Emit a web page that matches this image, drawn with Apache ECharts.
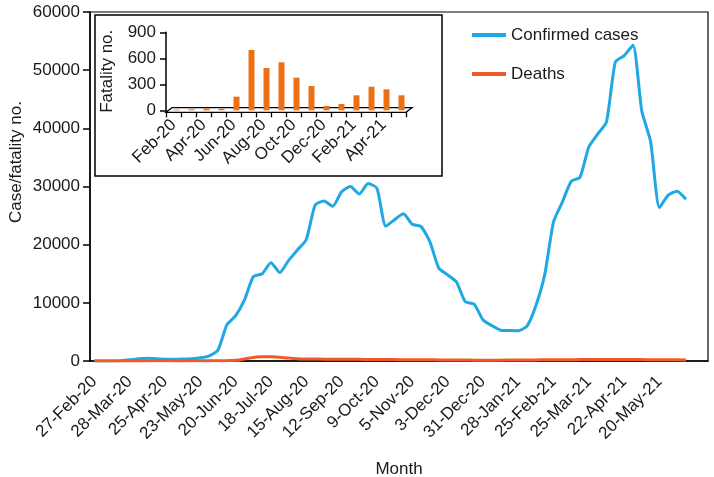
<!DOCTYPE html>
<html>
<head>
<meta charset="utf-8">
<script src="https://cdn.jsdelivr.net/npm/echarts@6/dist/echarts.min.js"></script>
<style>html,body{margin:0;padding:0;background:#fff}#c{width:714px;height:477px}</style>
</head>
<body>
<div id="c"></div>
<script>
// Weekly x-axis tick labels (every 4th week shown)
const tickLabels = ['27-Feb-20','28-Mar-20','25-Apr-20','23-May-20','20-Jun-20','18-Jul-20','15-Aug-20','12-Sep-20','9-Oct-20','5-Nov-20','3-Dec-20','31-Dec-20','28-Jan-21','25-Feb-21','25-Mar-21','22-Apr-21','20-May-21'];
const weekCount = 70;
// Weekly confirmed cases
const confirmedCases = [0,0,10,60,200,380,460,400,310,280,330,400,550,900,1900,6200,7800,10500,14500,15000,16900,15200,17300,19100,20900,26800,27500,26600,29100,30000,28700,30500,29700,23200,24300,25300,23500,23100,20500,16000,14800,13600,10200,9800,7100,6100,5300,5250,5200,6000,9500,14800,23900,27300,30900,31600,36800,39000,41100,51400,52500,54300,43000,37700,26400,28500,29200,27800];
// Weekly deaths
const deaths = [0,0,0,5,10,15,20,25,25,20,20,25,30,35,40,60,120,350,600,720,720,640,500,400,350,330,320,310,300,290,280,270,260,250,240,230,220,210,200,190,180,170,160,150,150,150,150,160,170,180,190,200,210,220,230,240,250,250,250,250,250,250,240,230,220,210,200,190];
// Inset: monthly fatalities
const months = ['Feb-20','Mar-20','Apr-20','May-20','Jun-20','Jul-20','Aug-20','Sep-20','Oct-20','Nov-20','Dec-20','Jan-21','Feb-21','Mar-21','Apr-21','May-21'];
const monthlyFatalities = [8,12,20,18,157,696,488,554,376,280,50,73,173,272,242,173];

const weeks = [];
for (let i = 0; i < weekCount; i++) weeks.push('W' + i);

const FONT = 'Liberation Sans, Arial, sans-serif';
const TXT = '#1a1a1a';
const BLUE = '#1FA8E4';
const RED = '#F05A28';
const BAR = '#EC7014';

const chart = echarts.init(document.getElementById('c'), null, {renderer: 'canvas'});
chart.setOption({
  animation: false,
  backgroundColor: '#fff',
  textStyle: {fontFamily: FONT, color: TXT},
  grid: [
    {left: 90, right: 6, top: 12, bottom: 116, containLabel: false, outerBoundsMode: 'none', show: true, borderColor: '#000', borderWidth: 1.2, backgroundColor: 'transparent'},
    {left: 166, top: 32.3, width: 240, height: 78, containLabel: false, outerBoundsMode: 'none'},
    {left: 169, top: 32.3, width: 240, height: 78, containLabel: false, outerBoundsMode: 'none'}
  ],
  legend: {
    orient: 'vertical', left: 467, top: 20, itemWidth: 34, itemHeight: 4, itemGap: 19, icon: 'rect',
    textStyle: {fontSize: 17, color: TXT, fontFamily: FONT, lineHeight: 20},
    data: ['Confirmed cases', 'Deaths']
  },
  xAxis: [
    {
      type: 'category', gridIndex: 0, data: weeks, boundaryGap: true,
      name: 'Month', nameLocation: 'middle', nameGap: 100,
      nameTextStyle: {fontSize: 17, color: TXT, fontFamily: FONT},
      axisLine: {lineStyle: {color: '#000', width: 1.5}},
      axisTick: {interval: 2, length: 6, lineStyle: {color: '#000', width: 1.5}},
      axisLabel: {
        interval: 3, rotate: 45, margin: 18, fontSize: 17, color: TXT, fontFamily: FONT,
        formatter: (v, idx) => (idx % 4 === 0 && tickLabels[idx / 4]) ? tickLabels[idx / 4] : ''
      },
      splitLine: {show: false}
    },
    {
      type: 'category', gridIndex: 1, data: months, boundaryGap: true,
      axisLine: {show: false},
      axisTick: {show: true, interval: 0, length: 7, lineStyle: {color: '#000', width: 1.3}},
      axisLabel: {interval: 1, rotate: 45, margin: 12, fontSize: 17, color: TXT, fontFamily: FONT},
      splitLine: {show: false}
    },
    {
      type: 'category', gridIndex: 2, data: months, boundaryGap: true, show: false
    }
  ],
  yAxis: [
    {
      type: 'value', gridIndex: 0, min: 0, max: 60000, interval: 10000,
      axisLine: {show: true, lineStyle: {color: '#000', width: 1.5}},
      axisTick: {show: true, length: 7, lineStyle: {color: '#000', width: 1.5}},
      axisLabel: {margin: 10, fontSize: 17, color: TXT, fontFamily: FONT, formatter: v => String(v)},
      splitLine: {show: false}
    },
    {
      type: 'value', gridIndex: 1, min: 0, max: 900, interval: 300,
      name: 'Fatality no.', nameLocation: 'middle', nameGap: 50,
      nameTextStyle: {fontSize: 17, color: TXT, fontFamily: FONT},
      axisLine: {show: true, lineStyle: {color: '#000', width: 1.5}},
      axisTick: {show: true, length: 6, lineStyle: {color: '#000', width: 1.5}},
      axisLabel: {margin: 10, fontSize: 17, color: TXT, fontFamily: FONT, formatter: v => String(v)},
      splitLine: {show: false}
    },
    {
      type: 'value', gridIndex: 2, min: 0, max: 900, interval: 300, show: false, splitLine: {show: false}
    }
  ],
  graphic: [
    {type: 'rect', z: 10, silent: true, shape: {x: 95, y: 15, width: 347, height: 161},
     style: {fill: 'rgba(0,0,0,0)', stroke: '#000', lineWidth: 1.5}},
    {type: 'text', x: 16.5, y: 162, rotation: Math.PI / 2, silent: true,
     style: {text: 'Case/fatality no.', font: '17px ' + FONT, fill: TXT, align: 'center', verticalAlign: 'middle', textAlign: 'center', textVerticalAlign: 'middle'}}
  ],
  series: [
    {
      name: 'Confirmed cases', type: 'line', xAxisIndex: 0, yAxisIndex: 0,
      data: confirmedCases, showSymbol: false, smooth: 0.2,
      lineStyle: {color: BLUE, width: 3}, itemStyle: {color: BLUE}, z: 3
    },
    {
      name: 'Deaths', type: 'line', xAxisIndex: 0, yAxisIndex: 0,
      data: deaths, showSymbol: false, smooth: 0.6,
      lineStyle: {color: RED, width: 3}, itemStyle: {color: RED}, z: 4
    },
    {
      type: 'custom', xAxisIndex: 1, yAxisIndex: 1, data: [[0, 0]], z: 1, silent: true,
      renderItem: function (params, api) {
        const cs = params.coordSys;
        const y0 = cs.y + cs.height;
        const x = cs.x, w = cs.width;
        return {
          type: 'polygon',
          shape: {points: [[x, y0 + 2], [x + w, y0 + 2], [x + w + 6, y0 - 2.6], [x + 6, y0 - 2.6]]},
          style: {fill: '#fff', stroke: '#000', lineWidth: 1.3}
        };
      }
    },
    {
      name: 'Fatality', type: 'bar', xAxisIndex: 2, yAxisIndex: 2,
      data: monthlyFatalities, barWidth: 6, z: 5,
      itemStyle: {color: BAR}
    }
  ]
});
</script>
</body>
</html>
